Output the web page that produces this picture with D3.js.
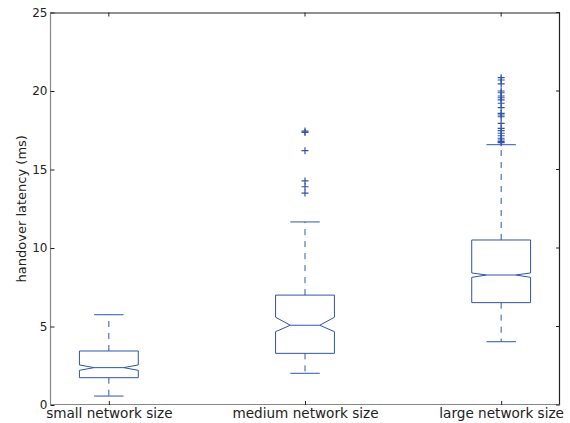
<!DOCTYPE html>
<html>
<head>
<meta charset="utf-8">
<script src="https://cdn.jsdelivr.net/npm/d3@7"></script>
<style>
  html, body { margin: 0; padding: 0; background: #fff; }
  svg { display: block; }
  text { font-family: "DejaVu Sans", sans-serif; fill: #222; }
</style>
</head>
<body>
<svg id="chart" width="570" height="423"></svg>
<script>
// ---- data ----
const categories = ["small network size", "medium network size", "large network size"];
const whiskerLow = [0.57, 2.02, 4.03];
const q1 = [1.74, 3.29, 6.52];
const notchLow = [2.21, 4.67, 8.13];
const median = [2.38, 5.08, 8.28];
const notchHigh = [2.55, 5.59, 8.41];
const q3 = [3.44, 7.0, 10.51];
const whiskerHigh = [5.75, 11.66, 16.58];
const outliersSmall = [];
const outliersMedium = [17.45, 17.36, 16.2, 14.27, 13.9, 13.5];
const outliersLarge = [20.85, 20.7, 20.45, 20.0, 19.89, 19.68, 19.57, 19.43, 19.22, 18.94,
  18.58, 18.47, 18.36, 17.94, 17.62, 17.47, 17.31, 17.15, 16.99, 16.88, 16.77, 16.71];
const outliers = [outliersSmall, outliersMedium, outliersLarge];
const yTicks = [0, 5, 10, 15, 20, 25];
const yLabel = "handover latency (ms)";

// ---- layout ----
const svg = d3.select("#chart");
const pLeft = 50, pRight = 560, pTop = 12.5, pBottom = 405;
const x = d3.scaleLinear().domain([0.7, 3.3]).range([pLeft, pRight]);
const y = d3.scaleLinear().domain([0, 25]).range([pBottom, pTop]);
const blue = "#3054aa";
const boxHalf = 0.15, capHalf = 0.075, notchHalf = 0.075;

// spines
svg.append("line").attr("x1", pLeft).attr("x2", pRight).attr("y1", pTop + 0.5).attr("y2", pTop + 0.5)
  .attr("stroke", "#222").attr("stroke-width", 1.2);
svg.append("line").attr("x1", pRight - 0.5).attr("x2", pRight - 0.5).attr("y1", pTop).attr("y2", pBottom)
  .attr("stroke", "#222").attr("stroke-width", 1.2);
svg.append("line").attr("x1", pLeft + 0.5).attr("x2", pLeft + 0.5).attr("y1", pTop).attr("y2", pBottom)
  .attr("stroke", "#888").attr("stroke-width", 1.2);
svg.append("line").attr("x1", pLeft).attr("x2", pRight).attr("y1", pBottom - 0.5).attr("y2", pBottom - 0.5)
  .attr("stroke", "#888").attr("stroke-width", 1.2);

// y axis (ticks inward) via d3 axis
const yAxis = svg.append("g").attr("transform", `translate(${pLeft + 0.5},0)`)
  .call(d3.axisLeft(y).tickValues(yTicks).tickSize(0).tickPadding(3).tickFormat(d3.format("d")));
yAxis.select(".domain").remove();
yAxis.selectAll("text").attr("font-size", 12).attr("font-family", "DejaVu Sans").attr("fill", "#222");
yAxis.selectAll(".tick").append("line").attr("x1", 0).attr("x2", 4).attr("stroke", "#222");
// right ticks inward
yTicks.forEach(t => {
  svg.append("line").attr("x1", pRight - 4).attr("x2", pRight).attr("y1", y(t)).attr("y2", y(t)).attr("stroke", "#222");
});

// x axis
const xAxis = svg.append("g").attr("transform", `translate(0,${pBottom})`)
  .call(d3.axisBottom(x).tickValues([1, 2, 3]).tickSize(0).tickPadding(3)
    .tickFormat((d, i) => categories[i]));
xAxis.select(".domain").remove();
xAxis.selectAll("text").attr("font-size", 13.6).attr("font-family", "DejaVu Sans").attr("fill", "#222");
xAxis.selectAll(".tick").append("line").attr("y1", 0).attr("y2", -4).attr("stroke", "#222");
[1, 2, 3].forEach(p => {
  svg.append("line").attr("x1", x(p)).attr("x2", x(p)).attr("y1", pTop).attr("y2", pTop + 4).attr("stroke", "#222");
});

// y label
svg.append("text").attr("transform", `translate(25.5,${(pTop + pBottom) / 2}) rotate(-90)`)
  .attr("text-anchor", "middle").attr("font-size", 13).text(yLabel);

// boxes
const boxes = categories.map((c, i) => ({
  pos: i + 1, wl: whiskerLow[i], q1: q1[i], nl: notchLow[i], med: median[i],
  nh: notchHigh[i], q3: q3[i], wh: whiskerHigh[i], out: outliers[i]
}));

const g = svg.append("g");
boxes.forEach(b => {
  const L = x(b.pos - boxHalf), R = x(b.pos + boxHalf);
  const NL = x(b.pos - notchHalf), NR = x(b.pos + notchHalf);
  const cx = x(b.pos);
  // whiskers
  g.append("line").attr("x1", cx).attr("x2", cx).attr("y1", y(b.q3)).attr("y2", y(b.wh))
    .attr("stroke", blue).attr("stroke-dasharray", "6,6");
  g.append("line").attr("x1", cx).attr("x2", cx).attr("y1", y(b.q1)).attr("y2", y(b.wl))
    .attr("stroke", blue).attr("stroke-dasharray", "6,6");
  // caps
  [b.wh, b.wl].forEach(v => {
    g.append("line").attr("x1", x(b.pos - capHalf)).attr("x2", x(b.pos + capHalf))
      .attr("y1", y(v)).attr("y2", y(v)).attr("stroke", blue);
  });
  // notched box
  const pts = [[L, y(b.q1)], [L, y(b.nl)], [NL, y(b.med)], [L, y(b.nh)], [L, y(b.q3)],
               [R, y(b.q3)], [R, y(b.nh)], [NR, y(b.med)], [R, y(b.nl)], [R, y(b.q1)]];
  g.append("path").attr("d", d3.line()(pts) + "Z").attr("fill", "none").attr("stroke", blue);
  // median
  g.append("line").attr("x1", NL).attr("x2", NR).attr("y1", y(b.med)).attr("y2", y(b.med))
    .attr("stroke", blue);
  // outliers
  b.out.forEach(v => {
    const cy = y(v);
    g.append("path").attr("d", `M${cx - 3.5},${cy}H${cx + 3.5}M${cx},${cy - 3.5}V${cy + 3.5}`)
      .attr("stroke", blue).attr("stroke-width", 1.2).attr("fill", "none");
  });
});
</script>
</body>
</html>
